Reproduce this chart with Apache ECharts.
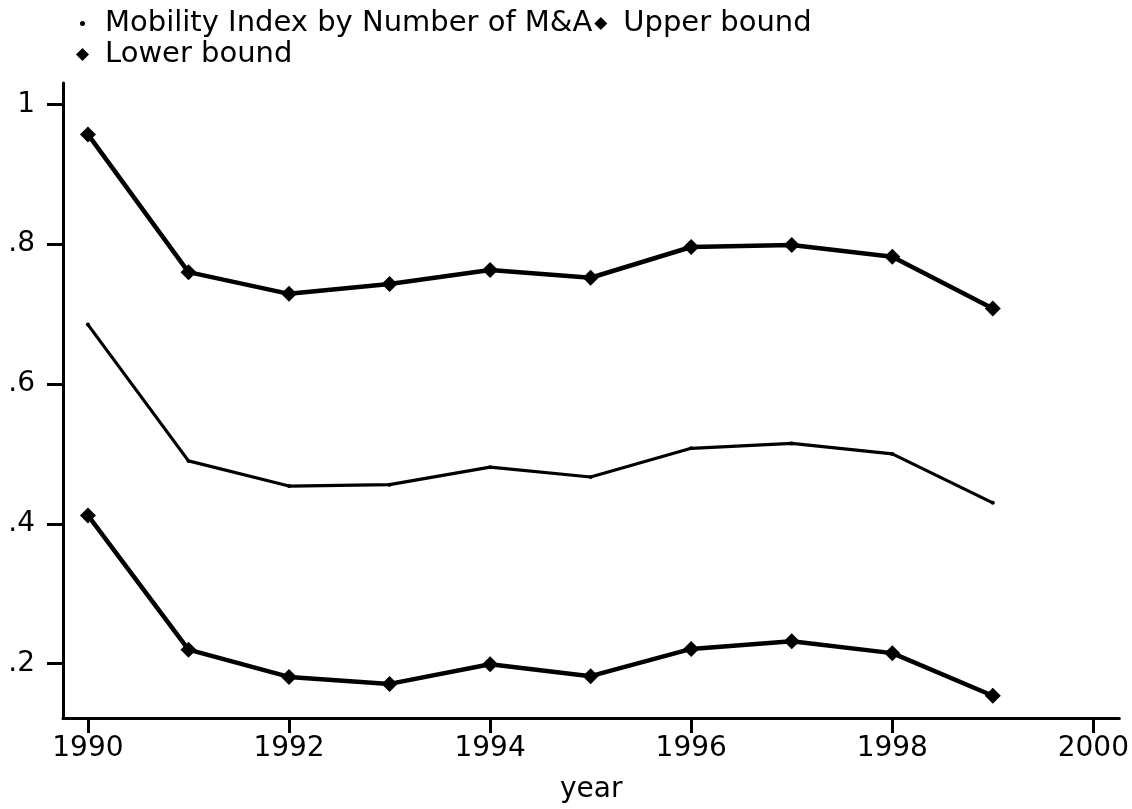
<!DOCTYPE html>
<html>
<head>
<meta charset="utf-8">
<script src="https://cdn.jsdelivr.net/npm/echarts@6/dist/echarts.min.js"></script>
<style>
  html, body { margin: 0; padding: 0; background: #fff; }
  #chart { width: 1132px; height: 809px; }
</style>
</head>
<body>
<div id="chart"></div>
<script>
// data
const years = [1990, 1991, 1992, 1993, 1994, 1995, 1996, 1997, 1998, 1999];
const mobility = [0.685, 0.490, 0.454, 0.456, 0.481, 0.467, 0.508, 0.515, 0.500, 0.430];
const upperBound = [0.957, 0.760, 0.729, 0.743, 0.763, 0.752, 0.796, 0.799, 0.782, 0.708];
const lowerBound = [0.412, 0.220, 0.181, 0.171, 0.199, 0.182, 0.221, 0.232, 0.215, 0.154];
const xTicks = [1990, 1992, 1994, 1996, 1998, 2000];
const yTicks = [0.2, 0.4, 0.6, 0.8, 1];
const yTickLabels = ['.2', '.4', '.6', '.8', '1'];

const font = 'DejaVu Sans, sans-serif';

function pairs(ys) {
  return years.map((y, i) => [y, ys[i]]);
}

const chart = echarts.init(document.getElementById('chart'));
chart.setOption({
  animation: false,
  backgroundColor: '#fff',
  textStyle: { fontFamily: font, color: '#000' },
  legend: {
    left: 67,
    top: 4,
    width: 780,
    itemGap: 2,
    itemWidth: 13,
    itemHeight: 13,
    textStyle: { fontSize: 29, lineHeight: 27, padding: [0, 0, 0, 11], color: '#000', fontFamily: font },
    data: [
      { name: 'Mobility Index by Number of M&A', icon: 'circle',
        itemStyle: { color: '#000', borderColor: '#fff', borderWidth: 8 } },
      { name: 'Upper bound', icon: 'diamond' },
      { name: 'Lower bound', icon: 'diamond' }
    ]
  },
  grid: { left: 63, right: 10, top: 83, bottom: 72, containLabel: false },
  xAxis: {
    type: 'value',
    min: 1989.752,
    max: 2000.258,
    name: 'year',
    nameLocation: 'middle',
    nameGap: 58,
    nameTextStyle: { fontSize: 28, color: '#000', fontFamily: font },
    splitLine: { show: false },
    axisLine: { lineStyle: { color: '#000', width: 3 } },
    axisTick: { customValues: xTicks, length: 15, lineStyle: { color: '#000', width: 3 } },
    axisLabel: { customValues: xTicks, margin: 17, fontSize: 28, color: '#000', formatter: v => String(v) }
  },
  yAxis: {
    type: 'value',
    min: 0.1222,
    max: 1.0306,
    splitLine: { show: false },
    axisLine: { show: true, lineStyle: { color: '#000', width: 3 } },
    axisTick: { show: true, customValues: yTicks, length: 16, lineStyle: { color: '#000', width: 3 } },
    axisLabel: {
      customValues: yTicks,
      margin: 28,
      fontSize: 28,
      color: '#000',
      formatter: v => yTickLabels[yTicks.findIndex(t => Math.abs(t - v) < 1e-6)]
    }
  },
  series: [
    {
      name: 'Mobility Index by Number of M&A',
      type: 'line',
      data: pairs(mobility),
      symbol: 'circle',
      symbolSize: 4,
      showSymbol: true,
      itemStyle: { color: '#000' },
      lineStyle: { color: '#000', width: 3.2 }
    },
    {
      name: 'Upper bound',
      type: 'line',
      data: pairs(upperBound),
      symbol: 'diamond',
      symbolSize: 16,
      itemStyle: { color: '#000' },
      lineStyle: { color: '#000', width: 4.5 }
    },
    {
      name: 'Lower bound',
      type: 'line',
      data: pairs(lowerBound),
      symbol: 'diamond',
      symbolSize: 16,
      itemStyle: { color: '#000' },
      lineStyle: { color: '#000', width: 4.5 }
    }
  ]
});
</script>
</body>
</html>
